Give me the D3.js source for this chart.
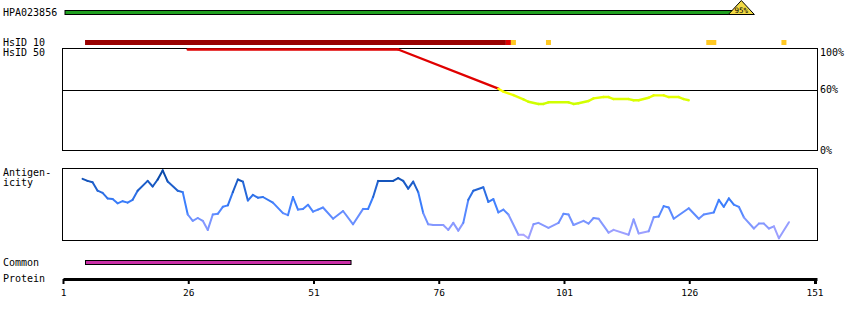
<!DOCTYPE html>
<html>
<head>
<meta charset="utf-8">
<script src="https://cdn.jsdelivr.net/npm/d3@7"></script>
<style>
  body { margin: 0; background: #fff; }
  text { font-family: "DejaVu Sans Mono", monospace; font-size: 10px; fill: #000; }
</style>
</head>
<body>
<div id="chart"></div>
<script>
// protein length and axis ticks
var protLen = 151;
var axisTicks = [1, 26, 51, 76, 101, 126, 151];

// antigen (HPA) coverage
var hpaName = "HPA023856";
var hpaRange = [1, 135];
var hpaScore = "95%";

// HsID 10 segments (residue from/to, identity level)
var id10Start = [5, 89, 90, 97, 129, 144];
var id10End   = [88, 89, 90, 97, 130, 144];
var id10Level = ["high", "mid", "low", "low", "low", "low"];

// HsID 50 identity curve (residue, % identity)
var id50Pos = [25, 67, 87, 88, 90, 92, 93, 95, 96, 97, 101, 102, 103, 105, 106, 108, 109, 110, 113, 114, 115, 117, 118, 120, 121, 123, 124, 125];
var id50Val = [100, 100, 61, 58, 54.7, 50.4, 48, 45.8, 45.8, 47.5, 47.5, 45.8, 46.5, 48.8, 51.4, 52.7, 52.7, 50.7, 50.7, 49.5, 49.5, 52, 54.4, 54.4, 52.7, 52.7, 50.7, 49.5];
var idTicks = [100, 60, 0];

// antigenicity profile (residue, score)
var agPos = [4, 5, 6, 7, 8, 9, 10, 11, 12, 13, 14, 15, 17, 18, 19, 20, 21, 23, 24, 25, 26, 27, 28, 29, 30, 31, 32, 33, 34, 35, 36, 37, 38, 39, 40, 42, 44, 45, 46, 47, 48, 49, 50, 51, 52, 54, 56, 58, 60, 61, 62, 63, 66, 67, 68, 69, 70, 71, 72, 73, 74, 76, 77, 78, 79, 80, 81, 82, 84, 85, 86, 87, 88, 89, 91, 92, 93, 94, 95, 97, 99, 100, 101, 102, 104, 105, 106, 107, 109, 110, 113, 114, 115, 117, 118, 119, 120, 121, 122, 125, 127, 128, 130, 131, 132, 133, 134, 135, 136, 138, 139, 140, 141, 142, 143, 145];
var agVal = [86, 83, 81, 69, 66, 58, 57, 51, 54, 52, 56, 69, 83, 75, 85, 98, 82, 69, 67, 35, 26, 30, 26, 13, 35, 36, 46, 48, 67, 85, 82, 55, 63, 59, 60, 52, 37, 34, 60, 42, 43, 49, 39, 42, 45, 29, 40, 21, 43, 43, 60, 83, 83, 87, 83, 72, 82, 67, 37, 21, 20, 20, 13, 23, 12, 23, 56, 69, 74, 53, 57, 38, 42, 35, 6, 6, 1, 21, 23, 16, 23, 36, 35, 20, 26, 22, 30, 29, 9, 13, 6, 28, 8, 11, 31, 32, 47, 45, 29, 44, 29, 35, 38, 56, 46, 58, 49, 46, 31, 15, 22, 22, 15, 18, 1, 24];

// common region
var commonRange = [5, 57];

var width = 850, height = 320;
var svg = d3.select("#chart").append("svg")
    .attr("width", width)
    .attr("height", height);

var x = d3.scaleLinear().domain([1, protLen + 0.5]).range([63, 817]);
// residue r covers [r+0.4, r+1.4], its centre is r+0.9
function rx0(r) { return x(r + 0.4); }
function rx1(r) { return x(r + 1.4); }
function rc(r) { return x(r + 0.9); }

// ---- left labels
var labels = [
  { t: hpaName, y: 15.5 },
  { t: "HsID 10", y: 45.5 },
  { t: "HsID 50", y: 55.5 },
  { t: "Antigen-", y: 176 },
  { t: "icity", y: 186 },
  { t: "Common", y: 266 },
  { t: "Protein", y: 282 }
];
svg.append("g").selectAll("text")
    .data(labels)
    .enter().append("text")
    .attr("x", 3)
    .attr("y", function (d) { return d.y; })
    .text(function (d) { return d.t; });

// ---- HPA bar + score triangle
svg.append("rect")
    .attr("x", rx0(hpaRange[0]))
    .attr("y", 10.5)
    .attr("width", rx1(hpaRange[1]) - rx0(hpaRange[0]))
    .attr("height", 4)
    .attr("fill", "#20a020")
    .attr("stroke", "#000")
    .attr("stroke-width", 1);
var tx = rx1(hpaRange[1]);
svg.append("path")
    .attr("d", "M" + (tx - 13) + ",14.5L" + tx + ",0.5L" + (tx + 13) + ",14.5Z")
    .attr("fill", "#f2da44")
    .attr("stroke", "#000")
    .attr("stroke-width", 1);
svg.append("text")
    .attr("x", tx)
    .attr("y", 12.5)
    .attr("text-anchor", "middle")
    .style("font-size", "7.5px")
    .text(hpaScore);

// ---- HsID 10 bars
var id10Color = { high: "#990000", mid: "#dd0000", low: "#ffc822" };
svg.append("g").selectAll("rect")
    .data(d3.range(id10Start.length))
    .enter().append("rect")
    .attr("x", function (i) { return rx0(id10Start[i]); })
    .attr("y", 40)
    .attr("width", function (i) { return rx1(id10End[i]) - rx0(id10Start[i]); })
    .attr("height", 5)
    .attr("fill", function (i) { return id10Color[id10Level[i]]; });

// ---- HsID 50 panel
var yId = d3.scaleLinear().domain([0, 100]).range([150, 49.5]);
var idG = svg.append("g");
idG.append("rect")
    .attr("x", 62.5).attr("y", 48.5)
    .attr("width", 755).attr("height", 102)
    .attr("fill", "none").attr("stroke", "#000");
idG.append("line")
    .attr("x1", 62.5).attr("x2", 817.5)
    .attr("y1", Math.round(yId(60)) + 0.5).attr("y2", Math.round(yId(60)) + 0.5)
    .attr("stroke", "#000");
idG.selectAll("text.tk")
    .data(idTicks)
    .enter().append("text")
    .attr("class", "tk")
    .attr("x", 820)
    .attr("y", function (d) { return d === 100 ? 55.5 : yId(d) + 3.5; })
    .text(function (d) { return d + "%"; });

var idLow = d3.scaleLinear().domain([60, 44]).range(["#ffff00", "#c4ff00"]).clamp(true);
idG.selectAll("line.seg")
    .data(d3.range(id50Pos.length - 1))
    .enter().append("line")
    .attr("class", "seg")
    .attr("x1", function (i) { return rc(id50Pos[i]); })
    .attr("y1", function (i) { return yId(id50Val[i]); })
    .attr("x2", function (i) { return rc(id50Pos[i + 1]); })
    .attr("y2", function (i) { return yId(id50Val[i + 1]); })
    .attr("stroke-width", 2.4)
    .attr("stroke-linecap", "round")
    .attr("stroke", function (i) {
      var v = Math.min(id50Val[i], id50Val[i + 1]);
      return v >= 60 ? "#e00000" : idLow((id50Val[i] + id50Val[i + 1]) / 2);
    });

// ---- Antigenicity panel
var yAg = d3.scaleLinear().domain([0, 100]).range([239, 169]);
var agColor = d3.scaleLinear().domain([0, 50, 100]).range(["#b4a8ff", "#3d80ff", "#003f99"]);
var agG = svg.append("g");
agG.append("rect")
    .attr("x", 62.5).attr("y", 168.5)
    .attr("width", 755).attr("height", 72)
    .attr("fill", "none").attr("stroke", "#000");
agG.selectAll("line.seg")
    .data(d3.range(agPos.length - 1))
    .enter().append("line")
    .attr("class", "seg")
    .attr("x1", function (i) { return rc(agPos[i]); })
    .attr("y1", function (i) { return yAg(agVal[i]); })
    .attr("x2", function (i) { return rc(agPos[i + 1]); })
    .attr("y2", function (i) { return yAg(agVal[i + 1]); })
    .attr("stroke-width", 2)
    .attr("stroke-linecap", "round")
    .attr("stroke", function (i) { return agColor((agVal[i] + agVal[i + 1]) / 2); });

// ---- Common bar
svg.append("rect")
    .attr("x", Math.round(rx0(commonRange[0])) + 0.5)
    .attr("y", 260.5)
    .attr("width", rx1(commonRange[1]) - rx0(commonRange[0]))
    .attr("height", 4)
    .attr("fill", "#c92ea6")
    .attr("stroke", "#000");

// ---- Protein axis
var axis = d3.axisBottom(x).tickValues(axisTicks).tickSize(5).tickPadding(5).tickSizeOuter(0);
var axG = svg.append("g")
    .attr("transform", "translate(0,279)")
    .call(axis);
axG.select(".domain").attr("stroke-width", 3);
axG.selectAll(".tick line").attr("stroke-width", 2);
axG.selectAll(".tick text")
    .attr("font-family", null).attr("font-size", null)
    .style("font-size", "9.5px");
axG.append("line")
    .attr("x1", x(protLen + 0.5) - 1).attr("x2", x(protLen + 0.5) - 1)
    .attr("y1", 0).attr("y2", 5)
    .attr("stroke", "#000").attr("stroke-width", 2);
</script>
</body>
</html>
